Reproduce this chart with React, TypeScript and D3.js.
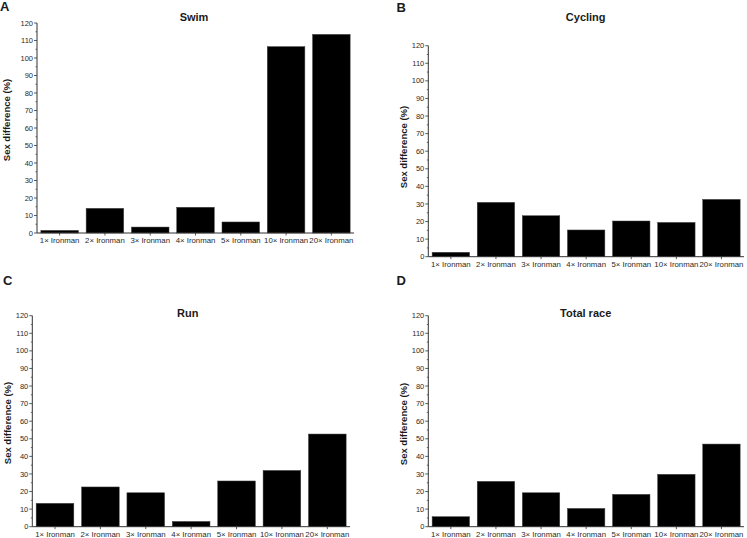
import React from "react";
import * as d3 from "d3";

const categories = ["1× Ironman", "2× Ironman", "3× Ironman", "4× Ironman", "5× Ironman", "10× Ironman", "20× Ironman"];
const swimValues = [1.5, 14.1, 3.4, 14.7, 6.3, 106.5, 113.5];
const cyclingValues = [2.5, 30.9, 23.3, 15.2, 20.3, 19.5, 32.6];
const runValues = [13.3, 22.6, 19.3, 3.0, 26.0, 32.0, 52.7];
const totalValues = [5.7, 25.8, 19.3, 10.4, 18.4, 29.8, 47.0];
const yMajorTicks = [0, 10, 20, 30, 40, 50, 60, 70, 80, 90, 100, 110, 120];
const yMinorTicks = [5, 15, 25, 35, 45, 55, 65, 75, 85, 95, 105, 115];
const panelLetters = ["A", "B", "C", "D"];
const panelTitles = ["Swim", "Cycling", "Run", "Total race"];
const yAxisTitle = "Sex difference (%)";

const FONT = "'Liberation Sans', Arial, Helvetica, sans-serif";
const TEXT = "#1a1a1a";
const AXIS = "#333";

type Layout = {
  x0: number; x1: number; yTop: number; yBottom: number;
  letterX: number; letterY: number;
  titleX: number; titleY: number;
  ylabX: number; ylabY: number;
};

const layouts: Layout[] = [
  { x0: 37, x1: 354, yTop: 23, yBottom: 233, letterX: 0, letterY: 10.7, titleX: 194, titleY: 21, ylabX: 10, ylabY: 120 },
  { x0: 428.3, x1: 744, yTop: 45.7, yBottom: 256.7, letterX: 396.5, letterY: 11.7, titleX: 585.7, titleY: 21.3, ylabX: 406.5, ylabY: 147 },
  { x0: 32.3, x1: 350, yTop: 315.7, yBottom: 526.7, letterX: 3, letterY: 285, titleX: 187.7, titleY: 316.5, ylabX: 10.5, ylabY: 423 },
  { x0: 428.3, x1: 744, yTop: 315.7, yBottom: 526.7, letterX: 396.5, letterY: 285, titleX: 585.7, titleY: 316.5, ylabX: 406.5, ylabY: 424 },
];

const allValues = [swimValues, cyclingValues, runValues, totalValues];

function Panel({ idx }: { idx: number }) {
  const L = layouts[idx];
  const values = allValues[idx];
  const x = d3.scaleBand<string>().domain(categories).range([L.x0, L.x1]).paddingInner(0.17).paddingOuter(0.085);
  const y = d3.scaleLinear().domain([0, 120]).range([L.yBottom, L.yTop]);
  return (
    <g>
      <text x={L.letterX} y={L.letterY} fontSize={13} fontWeight="bold" fill={TEXT} fontFamily={FONT}>{panelLetters[idx]}</text>
      <text x={L.titleX} y={L.titleY} fontSize={11} fontWeight="bold" fill={TEXT} textAnchor="middle" fontFamily={FONT}>{panelTitles[idx]}</text>
      <text
        transform={`translate(${L.ylabX},${L.ylabY}) rotate(-90)`}
        fontSize={9.5}
        fontWeight="bold"
        fill={TEXT}
        textAnchor="middle"
        fontFamily={FONT}
      >{yAxisTitle}</text>
      {values.map((v, i) => (
        <rect
          key={i}
          x={x(categories[i])}
          y={y(v)}
          width={x.bandwidth()}
          height={y(0) - y(v)}
          fill="#000"
          stroke="#444"
          strokeWidth={0.5}
        />
      ))}
      <line x1={L.x0} x2={L.x0} y1={y(120)} y2={y(0)} stroke={AXIS} strokeWidth={1} />
      {yMajorTicks.map((t) => (
        <g key={t}>
          <line x1={L.x0 - 3} x2={L.x0} y1={y(t)} y2={y(t)} stroke={AXIS} strokeWidth={0.8} />
          <text x={L.x0 - 4} y={y(t)} dy="0.35em" fontSize={7.5} fill="#2a2a2a" textAnchor="end" fontFamily={FONT}>{t}</text>
        </g>
      ))}
      {yMinorTicks.map((t) => (
        <line key={t} x1={L.x0 - 1.5} x2={L.x0} y1={y(t)} y2={y(t)} stroke={AXIS} strokeWidth={0.7} />
      ))}
      <line x1={L.x0} x2={L.x1} y1={y(0)} y2={y(0)} stroke={AXIS} strokeWidth={1} />
      {categories.map((c) => {
        const cx = (x(c) as number) + x.bandwidth() / 2;
        return (
          <g key={c}>
            <line x1={cx} x2={cx} y1={y(0)} y2={y(0) + 2.5} stroke={AXIS} strokeWidth={0.8} />
            <text x={cx} y={y(0) + 10} fontSize={7.8} fill="#2a2a2a" textAnchor="middle" fontFamily={FONT}>{c}</text>
          </g>
        );
      })}
    </g>
  );
}

export default function App() {
  return (
    <svg
      width={747}
      height={538}
      viewBox="0 0 747 538"
      style={{ position: "absolute", left: 0, top: 0, background: "#fff" }}
    >
      <rect x={0} y={0} width={747} height={538} fill="#fff" />
      {[0, 1, 2, 3].map((i) => (
        <Panel key={i} idx={i} />
      ))}
    </svg>
  );
}
